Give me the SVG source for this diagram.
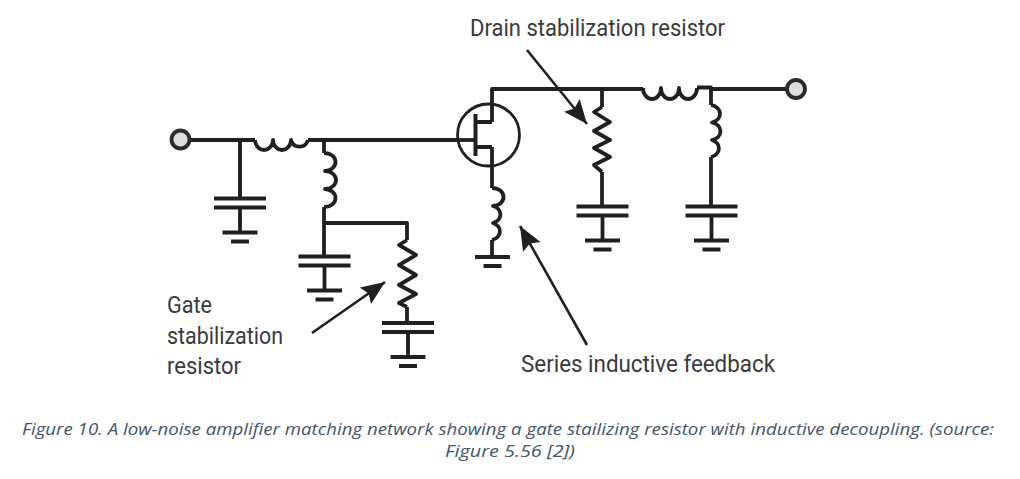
<svg xmlns="http://www.w3.org/2000/svg" width="1020" height="479" viewBox="0 0 1020 479">
<style>
.w{fill:none;stroke:#231f20;stroke-width:3.8;stroke-linejoin:round;stroke-linecap:butt}
.p{fill:none;stroke:#231f20;stroke-width:4}
.a{stroke:#231f20;stroke-width:2.6;fill:none}
.port{fill:#dcdddf;stroke:#2b2b2b;stroke-width:3.8}
.l{font-family:"Roboto","Liberation Sans",sans-serif;font-size:23px;fill:#3a3a3c}
.c{font-family:"Open Sans","Lato",sans-serif;font-style:italic;font-size:15.500px;fill:#44546a}
</style>
<defs>
<marker id="ah" markerUnits="userSpaceOnUse" markerWidth="26" markerHeight="22" refX="24" refY="10" orient="auto"><path d="M0 0L24 10L0 20L4 10Z" fill="#231f20"/></marker>
<g id="gnd"><path class="p" d="M-17.500 0H17.500"/><path class="p" d="M-9 9H9"/></g>
<g id="cap"><path class="p" d="M-26 0H26M-26 9H26"/><path class="w" d="M0 9V34"/><use href="#gnd" y="34"/></g>
</defs>
<g id="connectors">
<path class="w" d="M189 140H255"/>
<path class="w" d="M308 140H458"/>
<path class="w" d="M240 140V198"/>
<path class="w" d="M324 140V153"/>
<path class="w" d="M324 207V255"/>
<path class="w" d="M324 223H407V240"/>
<path class="w" d="M407 307V323"/>
<path class="w" d="M458 140H475"/>
<path class="w" d="M492 122V89H643"/>
<path class="w" d="M492 147V188"/>
<path class="w" d="M492 240V257"/>
<path class="w" d="M602 89V107"/>
<path class="w" d="M602 172V206"/>
<path class="w" d="M697 87.500H711V89H787"/>
<path class="w" d="M711 87.500V105"/>
<path class="w" d="M711 157V206"/>
</g>
<g id="input-port"><circle class="port" cx="180.500" cy="139.500" r="9"/></g>
<g id="output-port"><circle class="port" cx="796" cy="89" r="9"/></g>
<g id="l1"><path class="w" d="M255 140A9 10 0 0 0 273 140A9 10 0 0 0 291 140A9 10 0 0 0 308 140"/></g>
<g id="l2"><path class="w" d="M324 153A11 9 0 0 1 325 171A11 9 0 0 1 325 189A11 9 0 0 1 324 207"/></g>
<g id="c1"><use href="#cap" x="240" y="198.500"/></g>
<g id="c2"><use href="#cap" x="324.500" y="256.500"/></g>
<g id="r1"><path class="w" d="M407 240L399 245L416 255L399 265L416 275L399 285L416 294L399 303L407 307"/></g>
<g id="c3"><use href="#cap" x="408" y="323"/></g>
<g id="fet">
<circle cx="488.500" cy="135" r="31" fill="none" stroke="#231f20" stroke-width="2.800"/>
<path class="p" d="M475.500 114V156" stroke-width="4.500"/>
<path class="w" d="M475 122H492M475 147H492"/>
</g>
<g id="l3"><path class="w" d="M492 188A11 9 0 0 1 493 206A11 9 0 0 1 493 223A11 9 0 0 1 492 240"/></g>
<g id="g3"><use href="#gnd" x="492.500" y="257"/></g>
<g id="r2"><path class="w" d="M602 107L594 112L610 122L594 131L610 140L594 148L610 157L594 165L602 172"/></g>
<g id="c4"><use href="#cap" x="602.500" y="206.500"/></g>
<g id="l4"><path class="w" d="M643 88A9 11 0 0 0 661 88A9 11 0 0 0 679 88A9 11 0 0 0 697 88"/></g>
<g id="l5"><path class="w" d="M711 105A11 9 0 0 1 712 122.500A11 9 0 0 1 712 140A11 9 0 0 1 711 157"/></g>
<g id="c5"><use href="#cap" x="711.500" y="206.500"/></g>
<g id="annotations">
<path class="a" d="M527 50L587 124" marker-end="url(#ah)"/>
<path class="a" d="M312 333L385 282" marker-end="url(#ah)"/>
<path class="a" d="M587 345L520 226" marker-end="url(#ah)"/>
</g>
<text class="l" x="470" y="36" textLength="255" lengthAdjust="spacingAndGlyphs">Drain stabilization resistor</text>
<text class="l" x="167" y="313" textLength="45" lengthAdjust="spacingAndGlyphs">Gate</text>
<text class="l" x="167" y="344" textLength="116" lengthAdjust="spacingAndGlyphs">stabilization</text>
<text class="l" x="167" y="374" textLength="74" lengthAdjust="spacingAndGlyphs">resistor</text>
<text class="l" x="521" y="372" textLength="254" lengthAdjust="spacingAndGlyphs">Series inductive feedback</text>
<text class="c" x="22" y="435" textLength="972" lengthAdjust="spacingAndGlyphs">Figure 10. A low-noise amplifier matching network showing a gate stailizing resistor with inductive decoupling. (source:</text>
<text class="c" x="445" y="457" textLength="130" lengthAdjust="spacingAndGlyphs">Figure 5.56 [2])</text>
</svg>
